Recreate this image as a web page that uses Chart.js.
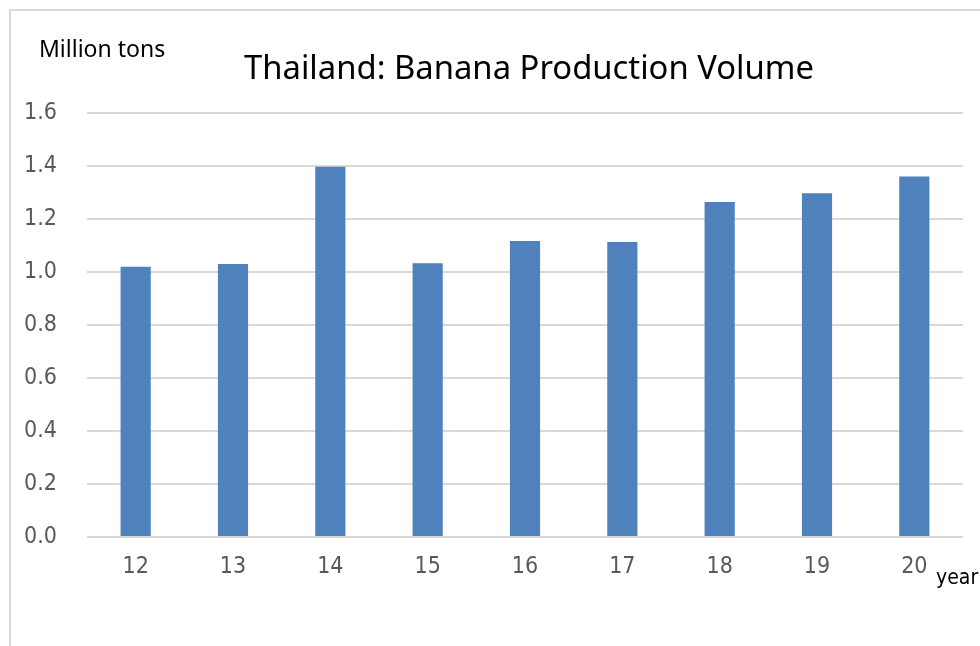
<!DOCTYPE html>
<html>
<head>
<meta charset="utf-8">
<script src="https://cdn.jsdelivr.net/npm/chart.js@4"></script>
<style>
  html, body { margin: 0; padding: 0; background: #fff; overflow: hidden; }
  #marco { position: absolute; left: 9px; top: 9px; width: 1000px; height: 700px; border: 2px solid #d9d9d9; box-sizing: border-box; }
  #caja { position: absolute; left: 0; top: 0; width: 980px; height: 646px; }
</style>
</head>
<body>
<div id="marco"></div>
<div id="caja"><canvas id="grafica"></canvas></div>
<script>
// datos del grafico
const anios = ["12", "13", "14", "15", "16", "17", "18", "19", "20"];
const produccion = [1.02, 1.03, 1.397, 1.033, 1.117, 1.113, 1.264, 1.297, 1.36];
const ticksY = [0, 0.2, 0.4, 0.6, 0.8, 1.0, 1.2, 1.4, 1.6];

const titulo = "Thailand: Banana Production Volume";
const unidad = "Million tons";
const ejeX = "year";

const $grafica = document.querySelector("#grafica");

//textos extra: titulo, unidad y "year"
const textosExtra = {
  id: "textosExtra",
  afterDraw(chart) {
    const ctx = chart.ctx;
    ctx.save();
    ctx.fillStyle = "#000";
    ctx.textBaseline = "alphabetic";
    ctx.textAlign = "center";
    ctx.font = "32.8px 'Noto Sans'";
    ctx.fillText(titulo, 529, 79);
    ctx.textAlign = "left";
    ctx.font = "23px 'Noto Sans'";
    ctx.fillText(unidad, 39, 57);
    ctx.font = "21px 'Liberation Sans Narrow', 'DejaVu Sans Condensed'";
    ctx.fillText(ejeX, 936, 584);
    ctx.restore();
  }
};

let grafico = new Chart($grafica, {
  type: "bar",
  data: {
    labels: anios,
    datasets: [{
      label: "Production",
      data: produccion,
      backgroundColor: "#4f81bd",
      borderWidth: 0,
      barPercentage: 1,
      categoryPercentage: 0.31,
    }]
  },
  options: {
    responsive: true,
    maintainAspectRatio: false,
    animation: false,
    layout: { padding: { left: 0, right: 17, top: 113, bottom: 0 } },
    plugins: {
      legend: { display: false },
      title: { display: false },
      tooltip: { enabled: false },
    },
    scales: {
      x: {
        grid: { display: false, drawTicks: false },
        border: { display: false },
        ticks: {
          color: "#595959",
          font: { family: "'Liberation Sans Narrow', 'DejaVu Sans Condensed'", size: 23 },
          padding: 16,
        },
        afterFit(scale) { scale.height = 109; },
      },
      y: {
        min: 0,
        max: 1.6,
        afterBuildTicks(scale) { scale.ticks = ticksY.map(v => ({ value: v })); },
        grid: { color: "#d9d9d9", lineWidth: 2, drawTicks: false },
        border: { display: false },
        ticks: {
          color: "#595959",
          font: { family: "'Liberation Sans Narrow', 'DejaVu Sans Condensed'", size: 23 },
          padding: 30,
          callback: v => Number(v).toFixed(1),
        },
        afterFit(scale) { scale.width = 87; },
      }
    }
  },
  plugins: [textosExtra]
});
</script>
</body>
</html>
